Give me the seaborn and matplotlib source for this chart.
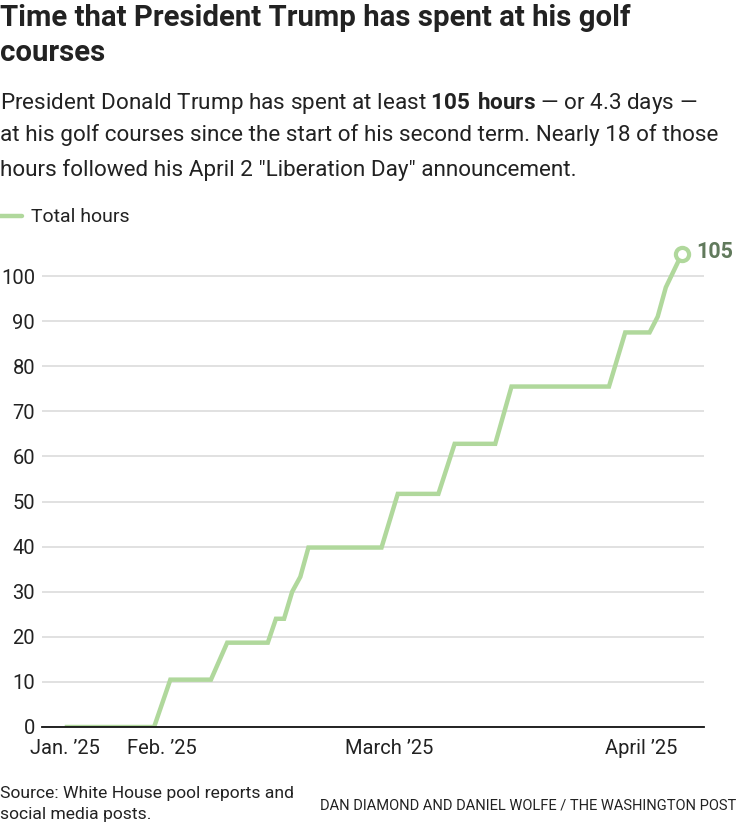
import matplotlib
matplotlib.use("Agg")
import matplotlib.pyplot as plt
import pandas as pd
import seaborn as sns

# cumulative hours
dates = ["2025-01-20", "2025-01-31", "2025-02-02", "2025-02-07", "2025-02-09",
         "2025-02-14", "2025-02-15", "2025-02-16", "2025-02-17", "2025-02-18",
         "2025-02-19", "2025-02-28", "2025-03-02", "2025-03-07", "2025-03-09",
         "2025-03-14", "2025-03-16", "2025-03-28", "2025-03-30", "2025-04-02",
         "2025-04-03", "2025-04-04", "2025-04-06"]
hours = [0, 0, 10.5, 10.5, 18.7, 18.7, 24, 24, 30, 33.3, 39.8, 39.8, 51.7,
         51.7, 62.8, 62.8, 75.5, 75.5, 87.5, 87.5, 91, 97.5, 105]

tick_dates = ["2025-01-20", "2025-02-01", "2025-03-01", "2025-04-01"]
tick_labels = ["Jan. \u201925", "Feb. \u201925", "March \u201925", "April \u201925"]
y_ticks = list(range(0, 101, 10))

GREEN = "#b0d89c"
LABEL_GREEN = "#617a5c"
TEXT = "#222222"

sns.set_theme()
sns.set_style("white")
plt.rcParams["font.family"] = ["Roboto", "DejaVu Sans"]
plt.rcParams["mathtext.fontset"] = "custom"
plt.rcParams["mathtext.rm"] = "Roboto"
plt.rcParams["mathtext.bf"] = "Roboto:bold"

df = pd.DataFrame({"date": pd.to_datetime(dates), "hours": hours})

fig = plt.figure(figsize=(7.36, 8.27), dpi=100)
ax = fig.add_axes([42 / 736, 100 / 827, 662 / 736, 487 / 827])

sns.lineplot(data=df, x="date", y="hours", color=GREEN, linewidth=3.2, ax=ax,
             solid_joinstyle="miter", solid_capstyle="butt")
ax.plot(df["date"].iloc[-1], df["hours"].iloc[-1], "o", ms=9.5, mfc="white",
        mec=GREEN, mew=3, clip_on=False, zorder=5)
ax.annotate("105", (df["date"].iloc[-1], df["hours"].iloc[-1]),
            xytext=(10, 1), textcoords="offset points", va="center", ha="left",
            fontsize=15.5, fontweight="bold", color=LABEL_GREEN,
            annotation_clip=False)

start = pd.Timestamp("2025-01-20")
ax.set_xlim(start - pd.Timedelta(days=2.8), start + pd.Timedelta(days=78.7))
ax.set_ylim(0, 108)
ax.set_yticks(y_ticks)
ax.set_yticklabels([str(v) for v in y_ticks])
ax.set_xticks(pd.to_datetime(tick_dates))
ax.set_xticklabels(tick_labels)
ax.tick_params(axis="both", length=0, labelsize=14.5, labelcolor=TEXT)
ax.tick_params(axis="y", pad=5)
ax.tick_params(axis="x", pad=9)
ax.grid(axis="y", color="#dedede", linewidth=1.3)
ax.grid(axis="x", visible=False)
for s in ["top", "right", "left"]:
    ax.spines[s].set_visible(False)
ax.spines["bottom"].set_color("#111111")
ax.spines["bottom"].set_linewidth(1.3)
ax.set_xlabel("")
ax.set_ylabel("")

fig.text(0, 1 - 4 / 827, "Time that President Trump has spent at his golf\ncourses",
         ha="left", va="top", fontsize=21.2, fontweight="bold", color=TEXT,
         linespacing=1.3)
fig.text(0, 1 - 90 / 827,
         "President Donald Trump has spent at least $\\mathbf{105\\ hours}$ \u2014 or 4.3 days \u2014",
         ha="left", va="top", fontsize=16.2, color=TEXT)
fig.text(0, 1 - 124 / 827,
         "at his golf courses since the start of his second term. Nearly 18 of those",
         ha="left", va="top", fontsize=16.2, color=TEXT)
fig.text(0, 1 - 159 / 827,
         "hours followed his April 2 \"Liberation Day\" announcement.",
         ha="left", va="top", fontsize=16.2, color=TEXT)

# legend
fig.lines.append(plt.Line2D([0, 22 / 736], [1 - 216 / 827] * 2, color=GREEN,
                            linewidth=3.2, transform=fig.transFigure))
fig.text(31 / 736, 1 - 217 / 827, "Total hours", ha="left", va="center",
         fontsize=14, color=TEXT)

fig.text(0, 1 - 786 / 827, "Source: White House pool reports and\nsocial media posts.",
         ha="left", va="top", fontsize=12.6, color=TEXT, linespacing=1.5)
fig.text(1, 1 - 805 / 827, "DAN DIAMOND AND DANIEL WOLFE / THE WASHINGTON POST",
         ha="right", va="center", fontsize=10.5, color=TEXT)

fig.savefig("out.png", dpi=100)
